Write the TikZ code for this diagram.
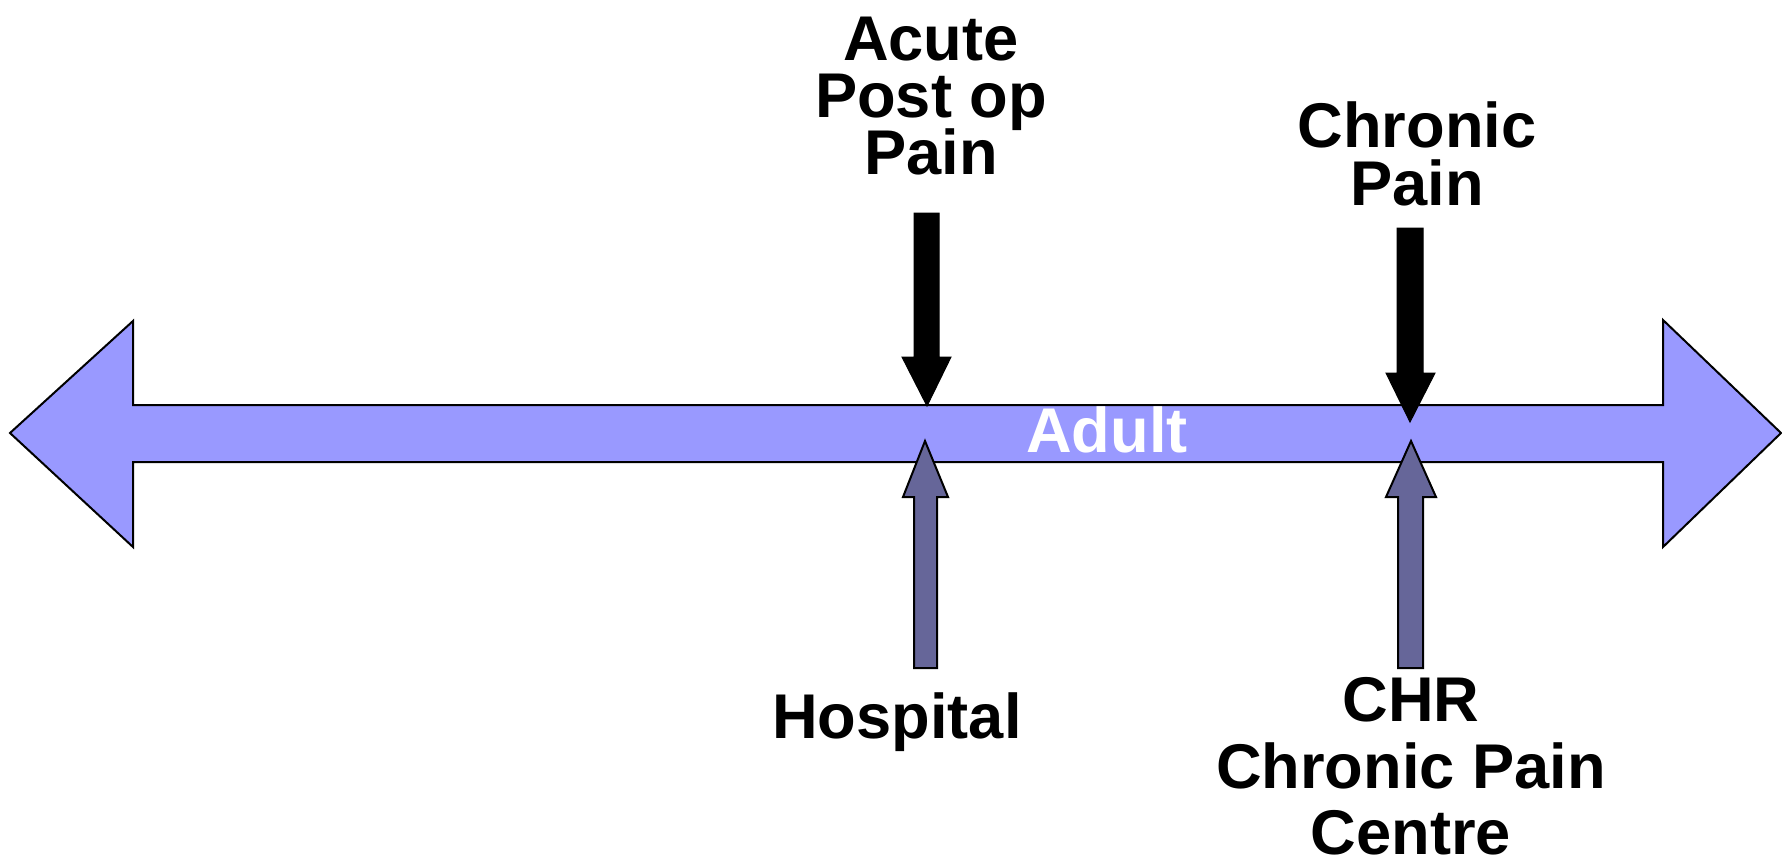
\documentclass[tikz,border=0pt]{standalone}
\usepackage{fontspec}
\setmainfont{Liberation Sans}
\definecolor{barblue}{HTML}{9999FF}
\definecolor{slateblue}{HTML}{666699}
\begin{document}
\begin{tikzpicture}[x=0.5pt,y=-0.5pt,
  bar/.style={fill=barblue,draw=black,line width=1pt,line join=miter},
  blackarrow/.style={fill=black,draw=black,line width=0.5pt},
  grayarrow/.style={fill=slateblue,draw=black,line width=1pt},
  lbl/.style={anchor=base,inner sep=0pt,font=\fontsize{31.6}{31.6}\selectfont\bfseries},
  wlbl/.style={lbl,text=white}]
\useasboundingbox (0,0) rectangle (1782,862);
% main double arrow
\draw[bar] (10,433) -- (133,321) -- (133,405) -- (1663,405) -- (1663,320) -- (1781,433)
  -- (1663,547) -- (1663,462) -- (133,462) -- (133,547) -- cycle;
\node[wlbl] (adult) at (1107,452) {Adult};
% black arrows
\draw[blackarrow] (914,213) -- (939,213) -- (939,357) -- (951,357) -- (927,406) -- (902,357) -- (914,357) -- cycle;
\draw[blackarrow] (1397,228) -- (1423,228) -- (1423,373) -- (1435,373) -- (1410,422) -- (1386,373) -- (1397,373) -- cycle;
% grey arrows
\draw[grayarrow] (914,668) -- (937,668) -- (937,497) -- (948,497) -- (925,441) -- (903,497) -- (914,497) -- cycle;
\draw[grayarrow] (1398,668) -- (1423,668) -- (1423,497) -- (1436,497) -- (1411,441) -- (1386,497) -- (1398,497) -- cycle;
% labels
\node[lbl] (acuteA) at (931,60) {Acute};
\node[lbl] (acuteB) at (931,117) {Post op};
\node[lbl] (acuteC) at (931,174) {Pain};
\node[lbl] (chronA) at (1417,147) {Chronic};
\node[lbl] (chronB) at (1417,205) {Pain};
\node[lbl] (hosp) at (897,738) {Hospital};
\node[lbl] (chrA) at (1411,721) {CHR};
\node[lbl] (chrB) at (1411,788) {Chronic Pain};
\node[lbl] (chrC) at (1411,854) {Centre};
\end{tikzpicture}
\end{document}
